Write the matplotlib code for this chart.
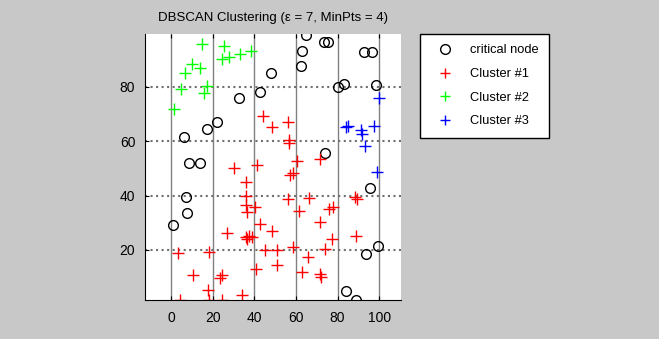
import matplotlib
matplotlib.use("Agg")
import matplotlib.pyplot as plt
import numpy as np

plt.rcParams['font.family'] = ['Liberation Sans', 'DejaVu Sans']

# critical nodes (noise)
noise_x = [65, 63, 62.5, 73.7, 75.6, 92.5, 96.5, 48.1, 42.8, 32.7, 22.3, 17.5, 6.1,
           8.7, 13.9, 7.2, 7.7, 1.1, 80.4, 83, 98.4, 74, 95.7, 99.5, 93.8, 84, 89.1]
noise_y = [99, 93.2, 87.6, 96.6, 96.4, 92.9, 92.9, 85.2, 78.2, 76, 67, 64.6, 61.7,
           51.9, 51.9, 39.5, 33.6, 29.2, 80, 81, 80.7, 55.5, 42.9, 21.5, 18.4, 4.9, 1.6]

c1_x = [44.4, 48.6, 56.4, 56.8, 56.5, 41.3, 60.3, 71.4, 30.4, 36.0, 57.0, 58.8, 36.0,
        56.4, 66.5, 88.3, 89.3, 36.2, 40.2, 36.5, 61.7, 76.0, 78.0, 42.7, 71.4, 48.4,
        26.8, 35.8, 37.7, 39.0, 36.4, 77.3, 88.8, 3.5, 18.4, 45.0, 50.7, 58.8, 74.0,
        65.9, 50.7, 40.9, 62.8, 71.6, 72.3, 10.7, 24.6, 23.3, 17.9, 34.0, 4.5, 18.2, 24.4]
c1_y = [69.3, 65.1, 67.0, 60.6, 59.4, 51.2, 52.6, 53.3, 50.1, 45.1, 47.5, 48.4, 40.0,
        38.8, 39.0, 39.5, 38.8, 36.4, 35.9, 34.1, 34.2, 35.1, 35.7, 29.6, 30.4, 26.9,
        26.1, 24.8, 25.2, 24.6, 23.8, 24.0, 25.0, 18.7, 19.2, 19.8, 19.8, 20.9, 20.3,
        17.4, 14.5, 12.8, 11.8, 11.0, 10.0, 10.8, 10.8, 9.6, 5.3, 3.5, 1.6, 1.4, 1.5]

c2_x = [15, 25.6, 24.5, 28, 33, 38.5, 9.9, 13.8, 6.5, 4.7, 17.5, 16, 1.5]
c2_y = [95.7, 95, 90.2, 91, 92.2, 93.3, 88.6, 87, 85.1, 79.3, 80.2, 77.7, 71.8]

c3_x = [84, 85.2, 91.2, 92, 97.4, 93.3, 99.7, 98.8]
c3_y = [65.3, 65.5, 64.3, 62.8, 65.6, 58.2, 75.8, 48.8]

fig = plt.figure(figsize=(6.59, 3.39), dpi=100, facecolor='#c8c8c8')
ax = fig.add_axes([145 / 659, 1 - 300 / 339, 256 / 659, 266 / 339])
ax.set_facecolor('white')

ax.plot(noise_x, noise_y, 'o', mfc='none', mec='black', ms=7, mew=1, label='critical node')
ax.plot(c1_x, c1_y, '+', color='#ff0000', ms=9, mew=1, label='Cluster #1')
ax.plot(c2_x, c2_y, '+', color='#00ff00', ms=9, mew=1, label='Cluster #2')
ax.plot(c3_x, c3_y, '+', color='#0000ff', ms=9, mew=1, label='Cluster #3')

ax.set_xlim(-12.5, 110.5)
ax.set_ylim(1.5, 99.5)
ax.set_xticks([0, 20, 40, 60, 80, 100])
ax.set_yticks([20, 40, 60, 80])
ax.xaxis.grid(True, color='#808080', linestyle='-', linewidth=1)
ax.yaxis.grid(True, color='#707070', linestyle=':', linewidth=1.5)
ax.set_axisbelow(True)
ax.tick_params(direction='in', length=3, labelsize=10, top=True, pad=8)
ax.tick_params(axis='y', pad=7)
for side in ['top', 'right']:
    ax.spines[side].set_visible(False)
for side in ['left', 'bottom']:
    ax.spines[side].set_color('black')

ax.set_title('DBSCAN Clustering (\u03b5 = 7, MinPts = 4)', fontsize=9.5, pad=9)

leg = ax.legend(loc='upper left', bbox_to_anchor=(420 / 659, 1 - 34 / 339),
                bbox_transform=fig.transFigure, fontsize=9.3, frameon=True,
                fancybox=False, edgecolor='black', framealpha=1,
                handlelength=2.2, handletextpad=0.9, borderpad=0.8,
                labelspacing=0.9, borderaxespad=0)
leg.get_frame().set_linewidth(1)
for h in leg.legend_handles:
    h.set_markersize(7)

fig.savefig('out.png', dpi=100, facecolor=fig.get_facecolor())
